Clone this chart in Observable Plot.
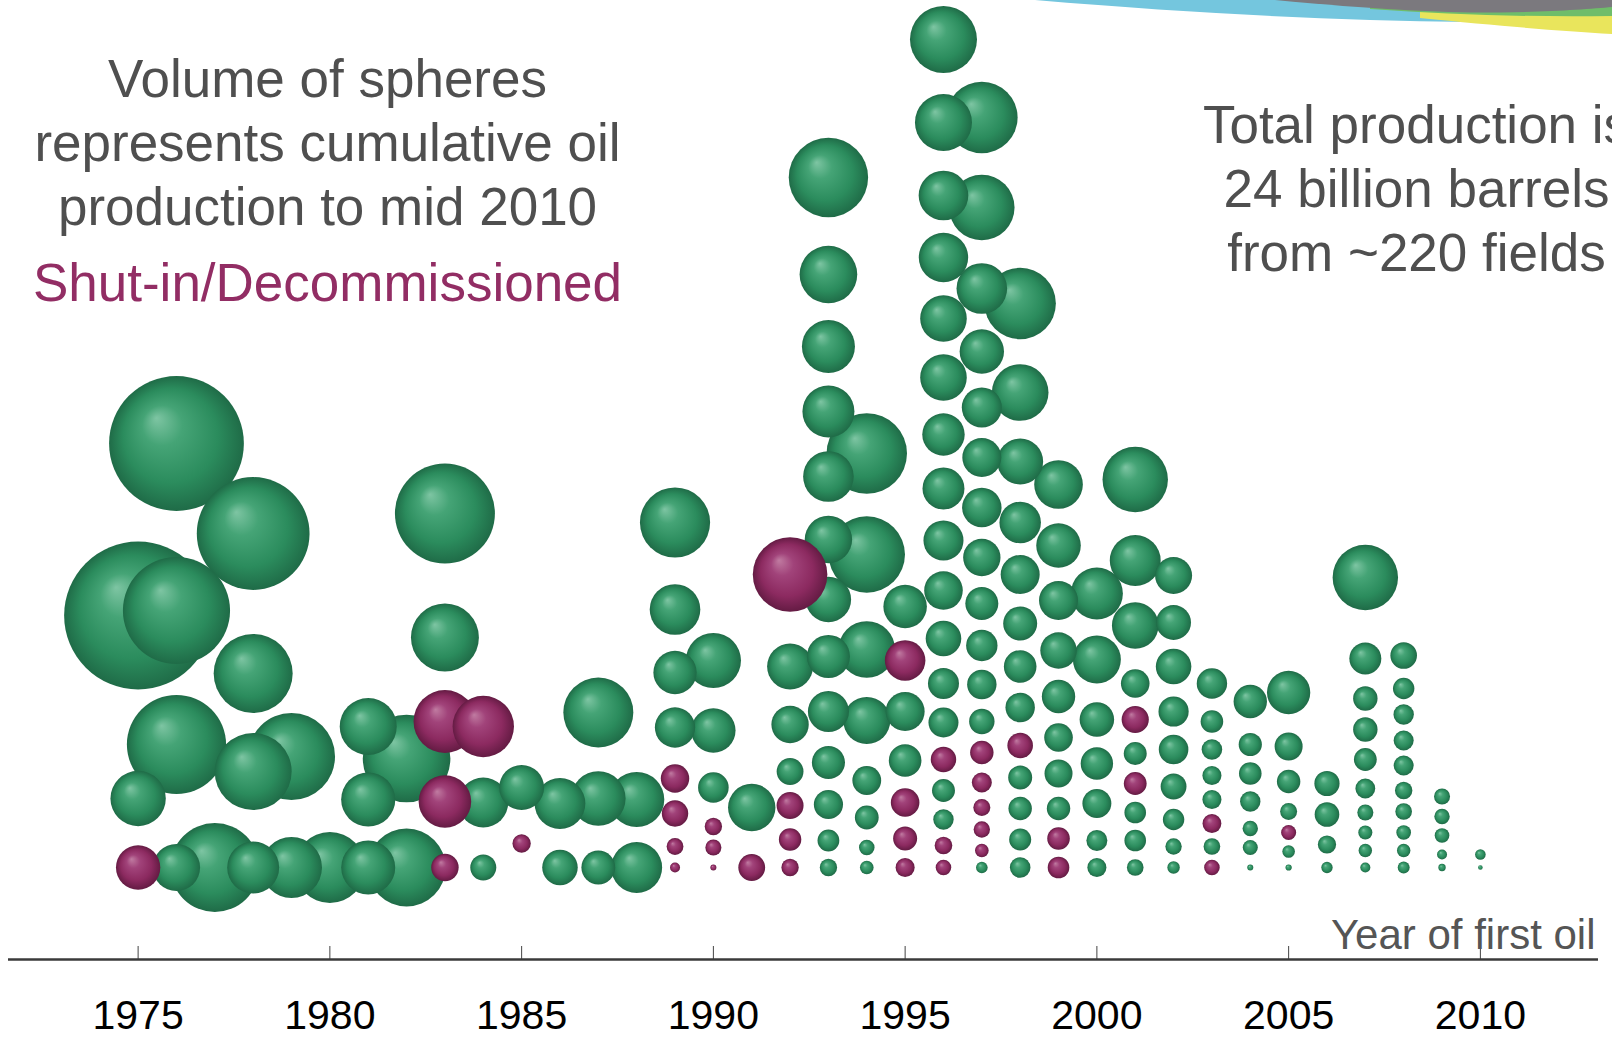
<!DOCTYPE html>
<html>
<head>
<meta charset="utf-8">
<script src="https://cdn.jsdelivr.net/npm/d3@7"></script>
<script src="https://cdn.jsdelivr.net/npm/@observablehq/plot@0.6"></script>
<style>
  html, body { margin: 0; padding: 0; background: #fff; overflow: hidden; }
  #wrap { position: relative; width: 1612px; height: 1040px; }
  #ribbon { position: absolute; left: 0; top: 0; pointer-events: none; }
</style>
</head>
<body>
<div id="wrap">
  <div id="chart"></div>
  <svg id="ribbon" width="1612" height="40" viewBox="0 0 1612 40">
    <path d="M1035,0 C1200,14 1330,20 1470,22 L1470,0 Z" fill="#74c6de"/>
    <path d="M1420,18 C1500,26 1560,31 1612,34 L1612,0 L1420,0 Z" fill="#e9e55c"/>
    <path d="M1370,9 C1450,15 1530,17 1612,16 L1612,0 L1370,0 Z" fill="#6fbd6a"/>
    <path d="M1275,0 C1380,10 1450,13 1500,12.5 C1550,12 1590,9 1612,7 L1612,0 Z" fill="#7b797e"/>
  </svg>
</div>
<script>
// Year of first oil for each column of spheres
const years = [1975,1976,1977,1978,1979,1980,1981,1982,1983,1984,1985,1986,1987,1988,1989,1990,1991,1992,
  1993,1994,1995,1996,1997,1998,1999,2000,2001,2002,2003,2004,2005,2006,2007,2008,2009,2010];

// Stack height of each sphere above the axis (arbitrary stacking units), per year
const heights = [
  [344,161,92],
  [516,349,215,92],
  [92],
  [426,286,188,92],
  [203,92],
  [92],
  [233,160,92],
  [201,92],
  [446,322,238,158,92],
  [233,157,92],
  [172,116],
  [156,92],
  [247,161,92],
  [160,92],
  [437,350,287,232,181,146,113,92],
  [299,229,172,133,112,92],
  [152,92],
  [385,293,235,188,154,120,92],
  [782,685,613,548,483,420,360,303,248,197,155,119,92],
  [506,405,310,239,179,142,112,92],
  [353,299,248,199,157,121,92],
  [920,837,764,702,641,582,525,471,419,369,321,276,237,200,169,140,114,92],
  [842,752,671,608,552,502,452,402,356,314,275,238,207,177,152,130,109,92],
  [656,567,498,437,385,336,293,252,214,182,151,120,92],
  [475,414,359,309,263,222,186,151,121,92],
  [366,300,240,196,156,119,92],
  [480,399,334,276,240,206,176,147,119,92],
  [384,337,293,248,210,173,140,113,92],
  [276,238,210,184,160,136,113,92],
  [258,215,186,158,131,112,92],
  [267,213,178,148,127,108,92],
  [176,145,115,92],
  [382,301,261,230,200,171,147,127,109,92],
  [304,271,245,219,194,169,148,127,109,92],
  [163,143,124,105,92],
  [105,92]
];

// Cumulative oil production to mid 2010 (million barrels, estimated), per year
const volumes = [
  [2675,140,72],
  [2021,1016,805,87],
  [578],
  [1184,407,377,116],
  [543,187],
  [295],
  [153,131,130],
  [555,392],
  [825,259,204,120,17],
  [191,103,14.5],
  [75,5.1],
  [108,37],
  [283,134,32],
  [139,109],
  [285,107,67,54,19,15.2,3.9,0.83],
  [139,72,23.6,4.3,3.4,0.18],
  [88,15.9],
  [342,80,43,15.9,16.2,9.3,4.3],
  [413,158,123,116,107,88,77,66,57,30,20.5,8.5,4.3],
  [429,368,150,86,19.7,11.1,3.1,2.1],
  [68,55,49,28.6,19.3,11.4,5.7],
  [248,153,101,99.5,83.5,83.5,63,61,53,47.4,37.2,24.6,22.3,13.5,10,7,4.5,3.1],
  [303,231,107,72,53,49,50.5,43,29.6,25.5,21,13.5,10.6,6.6,4.05,3.6,2.1,1.3],
  [300,150,80,59,49,32.4,28.6,21,13.8,11.4,10.6,8.8,7.2],
  [95,73,49,40,30.7,19.3,18.1,10.6,9.5,8.3],
  [116,91,34,28,20,7.6,5.7],
  [231,109,83.5,19.3,16.6,10,9.8,8.3,8.3,3.8],
  [42,35,37,22.7,21.4,14.2,8.1,3.6,1.6],
  [23.2,9.5,7.2,5.7,5.7,5.5,3.8,3.1],
  [30.7,10.3,9.5,7,3,2.8,0.18],
  [67,18.1,10.6,4.05,2.8,1.65,0.2],
  [13.2,12.3,5,1.2],
  [231,27,12,12,9.8,6.4,3.4,2.3,2,0.83],
  [15.5,8.1,7,6.6,6.6,4.35,3.8,2.6,2,1.4],
  [3.4,3,2.6,0.83,0.33],
  [0.98,0.08]
];

// 1 = shut-in / decommissioned field, per year
const shutIn = [
  [0,0,1],
  [0,0,0,0],
  [0],
  [0,0,0,0],
  [0,0],
  [0],
  [0,0,0],
  [0,0],
  [0,0,1,1,1],
  [1,0,0],
  [0,1],
  [0,0],
  [0,0,0],
  [0,0],
  [0,0,0,0,1,1,1,1],
  [0,0,0,1,1,1],
  [0,1],
  [1,0,0,0,1,1,1],
  [0,0,0,0,0,0,0,0,0,0,0,0,0],
  [0,0,0,0,0,0,0,0],
  [0,1,0,0,1,1,1],
  [0,0,0,0,0,0,0,0,0,0,0,0,0,1,0,0,1,1],
  [0,0,0,0,0,0,0,0,0,0,0,0,1,1,1,1,1,0],
  [0,0,0,0,0,0,0,0,1,0,0,0,0],
  [0,0,0,0,0,0,0,0,1,1],
  [0,0,0,0,0,0,0],
  [0,0,0,0,1,0,1,0,0,0],
  [0,0,0,0,0,0,0,0,0],
  [0,0,0,0,0,1,0,1],
  [0,0,0,0,0,0,0],
  [0,0,0,0,1,0,0],
  [0,0,0,0],
  [0,0,0,0,0,0,0,0,0,0],
  [0,0,0,0,0,0,0,0,0,0],
  [0,0,0,0,0],
  [0,0]
];

const tickYears = [1975,1980,1985,1990,1995,2000,2005,2010];
const xExtent = [1971.62, 2013.08];
const heightExtent = [0, 959];

const noteLeft = "Volume of spheres\nrepresents cumulative oil\nproduction to mid 2010";
const noteShut = "Shut-in/Decommissioned";
const noteRight = "Total production is\n24 billion barrels\nfrom ~220 fields";
const axisTitle = "Year of first oil";

const fields = years.flatMap((year, i) =>
  heights[i].map((h, j) => ({year, height: h, volume: volumes[i][j], shut: shutIn[i][j] === 1}))
);

function gradients() {
  const ns = "http://www.w3.org/2000/svg";
  const defs = document.createElementNS(ns, "defs");
  defs.innerHTML = `
    <radialGradient id="sphereGreen" cx="0.5" cy="0.5" r="0.5" fx="0.35" fy="0.31">
      <stop offset="0" stop-color="#7ec5a3"/>
      <stop offset="0.3" stop-color="#45a476"/>
      <stop offset="0.7" stop-color="#2b8c5d"/>
      <stop offset="1" stop-color="#1f6b47"/>
    </radialGradient>
    <radialGradient id="spherePurple" cx="0.5" cy="0.5" r="0.5" fx="0.35" fy="0.31">
      <stop offset="0" stop-color="#c07ba1"/>
      <stop offset="0.3" stop-color="#a1437a"/>
      <stop offset="0.7" stop-color="#8c2a60"/>
      <stop offset="1" stop-color="#641b43"/>
    </radialGradient>`;
  return defs;
}

const font = "'Liberation Sans', Arial, Helvetica, sans-serif";

const chart = Plot.plot({
  width: 1612,
  height: 1040,
  marginLeft: 8,
  marginRight: 14,
  marginTop: 0,
  marginBottom: 81,
  style: {fontFamily: font, background: "#fff", overflow: "hidden"},
  x: {domain: xExtent},
  y: {domain: heightExtent, axis: null},
  r: {type: "pow", exponent: 1 / 3, domain: [0, 1000], range: [0, 53.3]},
  marks: [
    gradients,
    Plot.dot(fields.filter(d => !d.shut), {x: "year", y: "height", r: "volume", fill: "url(#sphereGreen)"}),
    Plot.dot(fields.filter(d => d.shut), {x: "year", y: "height", r: "volume", fill: "url(#spherePurple)"}),
    Plot.ruleX(tickYears, {y1: 0, y2: 13, stroke: "#444", strokeWidth: 1}),
    Plot.ruleY([0], {stroke: "#3a3a3a", strokeWidth: 2.6}),
    Plot.axisX({ticks: tickYears, tickFormat: "d", tickSize: 0, tickPadding: 40, fontSize: 41, color: "#000", label: null}),
    Plot.text([noteLeft], {text: d => d, frameAnchor: "top-left", dx: 319, dy: 224, textAnchor: "middle", lineAnchor: "bottom", lineHeight: 1.2, fontSize: 53, fill: "#4f4f4f"}),
    Plot.text([noteShut], {text: d => d, frameAnchor: "top-left", dx: 319, dy: 300, textAnchor: "middle", lineAnchor: "bottom", fontSize: 53, fill: "#922d64"}),
    Plot.text([noteRight], {text: d => d, frameAnchor: "top-left", dx: 1408, dy: 270, textAnchor: "middle", lineAnchor: "bottom", lineHeight: 1.2, fontSize: 53, fill: "#4f4f4f"}),
    Plot.text([axisTitle], {text: d => d, frameAnchor: "top-left", dx: 1587, dy: 948, textAnchor: "end", lineAnchor: "bottom", fontSize: 42, fill: "#555"})
  ]
});

document.getElementById("chart").appendChild(chart);
</script>
</body>
</html>
